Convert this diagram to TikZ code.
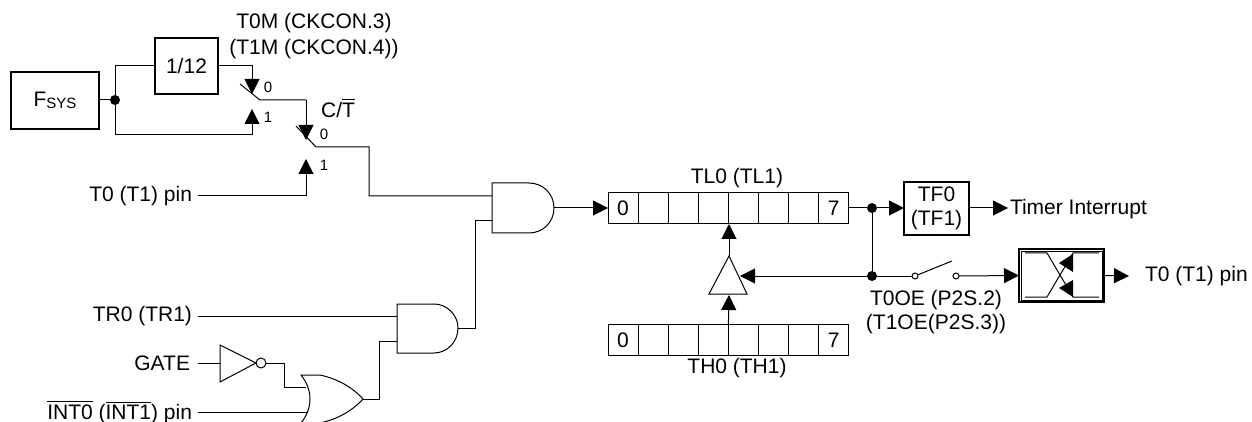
\documentclass[tikz,border=0pt]{standalone}
\usepackage{fontspec}
\setmainfont{Liberation Sans}
\usetikzlibrary{arrows.meta}
\tikzset{
    wire/.style={black, line width=0.5pt},
    arrowwire/.style={wire, -{Triangle[length=7.5pt, width=7.5pt]}},
    box/.style={draw=black, line width=0.85pt, inner sep=0pt, outer sep=0pt},
    gate/.style={draw=black, line width=0.5pt, fill=white},
    dot/.style={circle, fill=black, inner sep=0pt, outer sep=0pt, minimum size=5pt},
    ring/.style={circle, draw=black, line width=0.5pt, fill=white, inner sep=0pt, outer sep=0pt, minimum size=3pt},
    txt/.style={inner sep=0pt, outer sep=0pt, font=\fontsize{10.5}{12}\selectfont},
    small/.style={inner sep=0pt, outer sep=0pt, font=\fontsize{7.5}{9}\selectfont},
    cell/.style={draw=black, line width=0.5pt, minimum width=15pt, minimum height=15.5pt, inner sep=0pt, outer sep=0pt, anchor=west, font=\fontsize{10.5}{12}\selectfont},
}

\begin{document}
\begin{tikzpicture}[x=0.5pt, y=-0.5pt]
    \useasboundingbox (0,0) rectangle (1252,422);

    %% clock select
    \node[box, minimum width=44pt, minimum height=28.5pt, txt, draw] (fsys) at (55,100.5) {F\raisebox{-0.2ex}{\fontsize{7.5}{9}\selectfont SYS}};
    \node[box, minimum width=31.5pt, minimum height=28pt, txt, draw] (div) at (186.5,66) {1/12};
    \node[dot] (clkdot) at (115,100) {};
    \coordinate (sela) at (252,94);
    \coordinate (selb) at (252,109);
    \coordinate (selc) at (306,140);
    \coordinate (seld) at (306,159);
    \draw[wire] (fsys.east |- clkdot) -- (clkdot);
    \draw[wire] (clkdot) |- (div.west);
    \draw[arrowwire] (div.east) -| (sela);
    \draw[arrowwire] (clkdot) |- (252,135) -- (selb);
    \draw[wire] (240,84) -- (260,100) -- (306,100);
    \draw[arrowwire] (306,100) -- (selc);

    \node[small] (sela0) at (268,87) {0};
    \node[small] (selb1) at (268,117) {1};
    \node[small] (selc0) at (324,134) {0};
    \node[small] (seld1) at (324,165) {1};
    \node[txt] (tom) at (314,23) {T0M (CKCON.3)};
    \node[txt] (tim) at (314,49) {(T1M (CKCON.4))};
    \node[txt] (cnt) at (338,108) {C/$\overline{\mbox{T}}$};

    %% inputs
    \node[txt, anchor=east] (tpin) at (192,196) {T0 (T1) pin};
    \node[txt, anchor=east] (trun) at (192,316) {TR0 (TR1)};
    \node[txt, anchor=east] (gatein) at (190,363) {GATE};
    \node[txt, anchor=east] (intpin) at (192,412) {$\overline{\mbox{INT0}}$ ($\overline{\mbox{INT1}}$) pin};
    \coordinate (tpinend) at (198,196);
    \coordinate (trunend) at (198,316);
    \coordinate (gateend) at (198,363);
    \coordinate (intend) at (198,412);

    %% gate pins
    \coordinate (anda) at (492,196);
    \coordinate (andb) at (492,221);
    \coordinate (ando) at (554,208);
    \coordinate (andc) at (397,316);
    \coordinate (andd) at (397,341);
    \coordinate (ande) at (458,328);
    \coordinate (ora) at (306,387);
    \coordinate (orb) at (310,412);
    \coordinate (oro) at (363,399);

    \draw[arrowwire] (tpinend) -| (seld);
    \draw[wire] (296,126) -- (316,147) -- (369,147) -- (369,196) -- (anda);
    \draw[wire] (trunend) -- (andc);
    \draw[wire] (gateend) -- (220,363);
    \draw[wire] (intend) -- (orb);

    %% gates
    \draw[gate] (492,183) -- (529,183) .. controls (543,183) and (554,194) .. (ando) .. controls (554,222) and (543,233) .. (529,233) -- (492,233) -- cycle;
    \draw[gate] (397,304) -- (434,304) .. controls (447,304) and (458,315) .. (ande) .. controls (458,342) and (447,353) .. (434,353) -- (397,353) -- cycle;
    \draw[gate] (301,375) -- (320,375) .. controls (338,379) and (352,387) .. (oro) .. controls (352,411) and (338,419) .. (320,423) -- (301,423) .. controls (313,408) and (313,390) .. (301,375) -- cycle;
    \draw[gate] (220,345) -- (256,363) -- (220,382) -- cycle;
    \node[ring, minimum size=5pt] (inv) at (261,363) {};
    \draw[wire] (inv.east) -- (284,363) -- (284,387) -- (ora);
    \draw[wire] (oro) -- (379,399) -- (379,341) -- (andd);
    \draw[wire] (ande) -- (475,328) -- (475,221) -- (andb);

    %% counter registers
    \foreach \r/\y in {tl/208, th/340} {
        \foreach \i in {0,...,7} {
            \node[cell] (\r\i) at (608+\i*30.1,\y) {};
        }
        \node[txt] (\r first) at (\r0.center) {0};
        \node[txt] (\r last) at (\r7.center) {7};
    }
    \node[txt] (tllabel) at (737,178) {TL0 (TL1)};
    \node[txt] (thlabel) at (737,368) {TH0 (TH1)};
    \draw[arrowwire] (ando) -- (tl0.west);

    %% reload buffer
    \draw[gate] (729,256) -- (747,294) -- (709,294) -- cycle;
    \coordinate (bufin) at (740,276);
    \coordinate (bufup) at (729,256);
    \coordinate (bufdn) at (729,295);
    \coordinate (tlin) at (729,224);
    \draw[arrowwire] (bufup) -- (tlin);
    \draw[arrowwire] (th4.north west) -- (bufdn);

    %% overflow and output
    \node[dot] (ovf) at (872,208) {};
    \node[dot] (tog) at (872,276) {};
    \node[box, draw, minimum width=32.5pt, minimum height=26.5pt, txt, align=center] (tf) at (936.5,208.5) {TF0\\(TF1)};
    \node[txt, anchor=west] (irq) at (1010,209) {Timer Interrupt};
    \coordinate (irqend) at (1008,208);
    \draw[wire] (tl7.east) -- (ovf);
    \draw[arrowwire] (ovf) -- (tf.west |- ovf);
    \draw[arrowwire] (tf.east |- ovf) -- (irqend);
    \draw[wire] (ovf) -- (tog);
    \draw[arrowwire] (tog) -- (bufin);

    \node[ring] (swa) at (915,276) {};
    \node[ring] (swb) at (956,276) {};
    \coordinate (swc) at (952,261);
    \draw[wire] (tog) -- (swa);
    \draw[wire] (swa) -- (swc);
    \node[txt] (oea) at (936,300) {T0OE (P2S.2)};
    \node[txt] (oeb) at (936,324) {(T1OE(P2S.3))};

    \node[box, draw, minimum width=42.5pt, minimum height=26.5pt] (drv) at (1061.5,275.5) {};
    \node[draw=black, line width=0.4pt, inner sep=0pt, minimum width=40.5pt, minimum height=24.5pt] (drvin) at (drv.center) {};
    \draw[arrowwire] (swb) -- (drv.west);
    \coordinate (pinend) at (1129,276);
    \draw[arrowwire] (drv.east) -- (pinend);
    \node[txt, anchor=west] (outpin) at (1145,276) {T0 (T1) pin};

    %% crossed lines inside the driver
    \draw[wire] (1025,253) -- (1047,253) -- (1073,297) -- (1099,297);
    \draw[wire] (1025,297) -- (1047,297) -- (1073,253) -- (1099,253);
    \fill[black] (1059,263) -- (1073,254) -- (1073,272) -- cycle;
    \fill[black] (1059,288) -- (1073,280) -- (1073,297) -- cycle;
\end{tikzpicture}
\end{document}
